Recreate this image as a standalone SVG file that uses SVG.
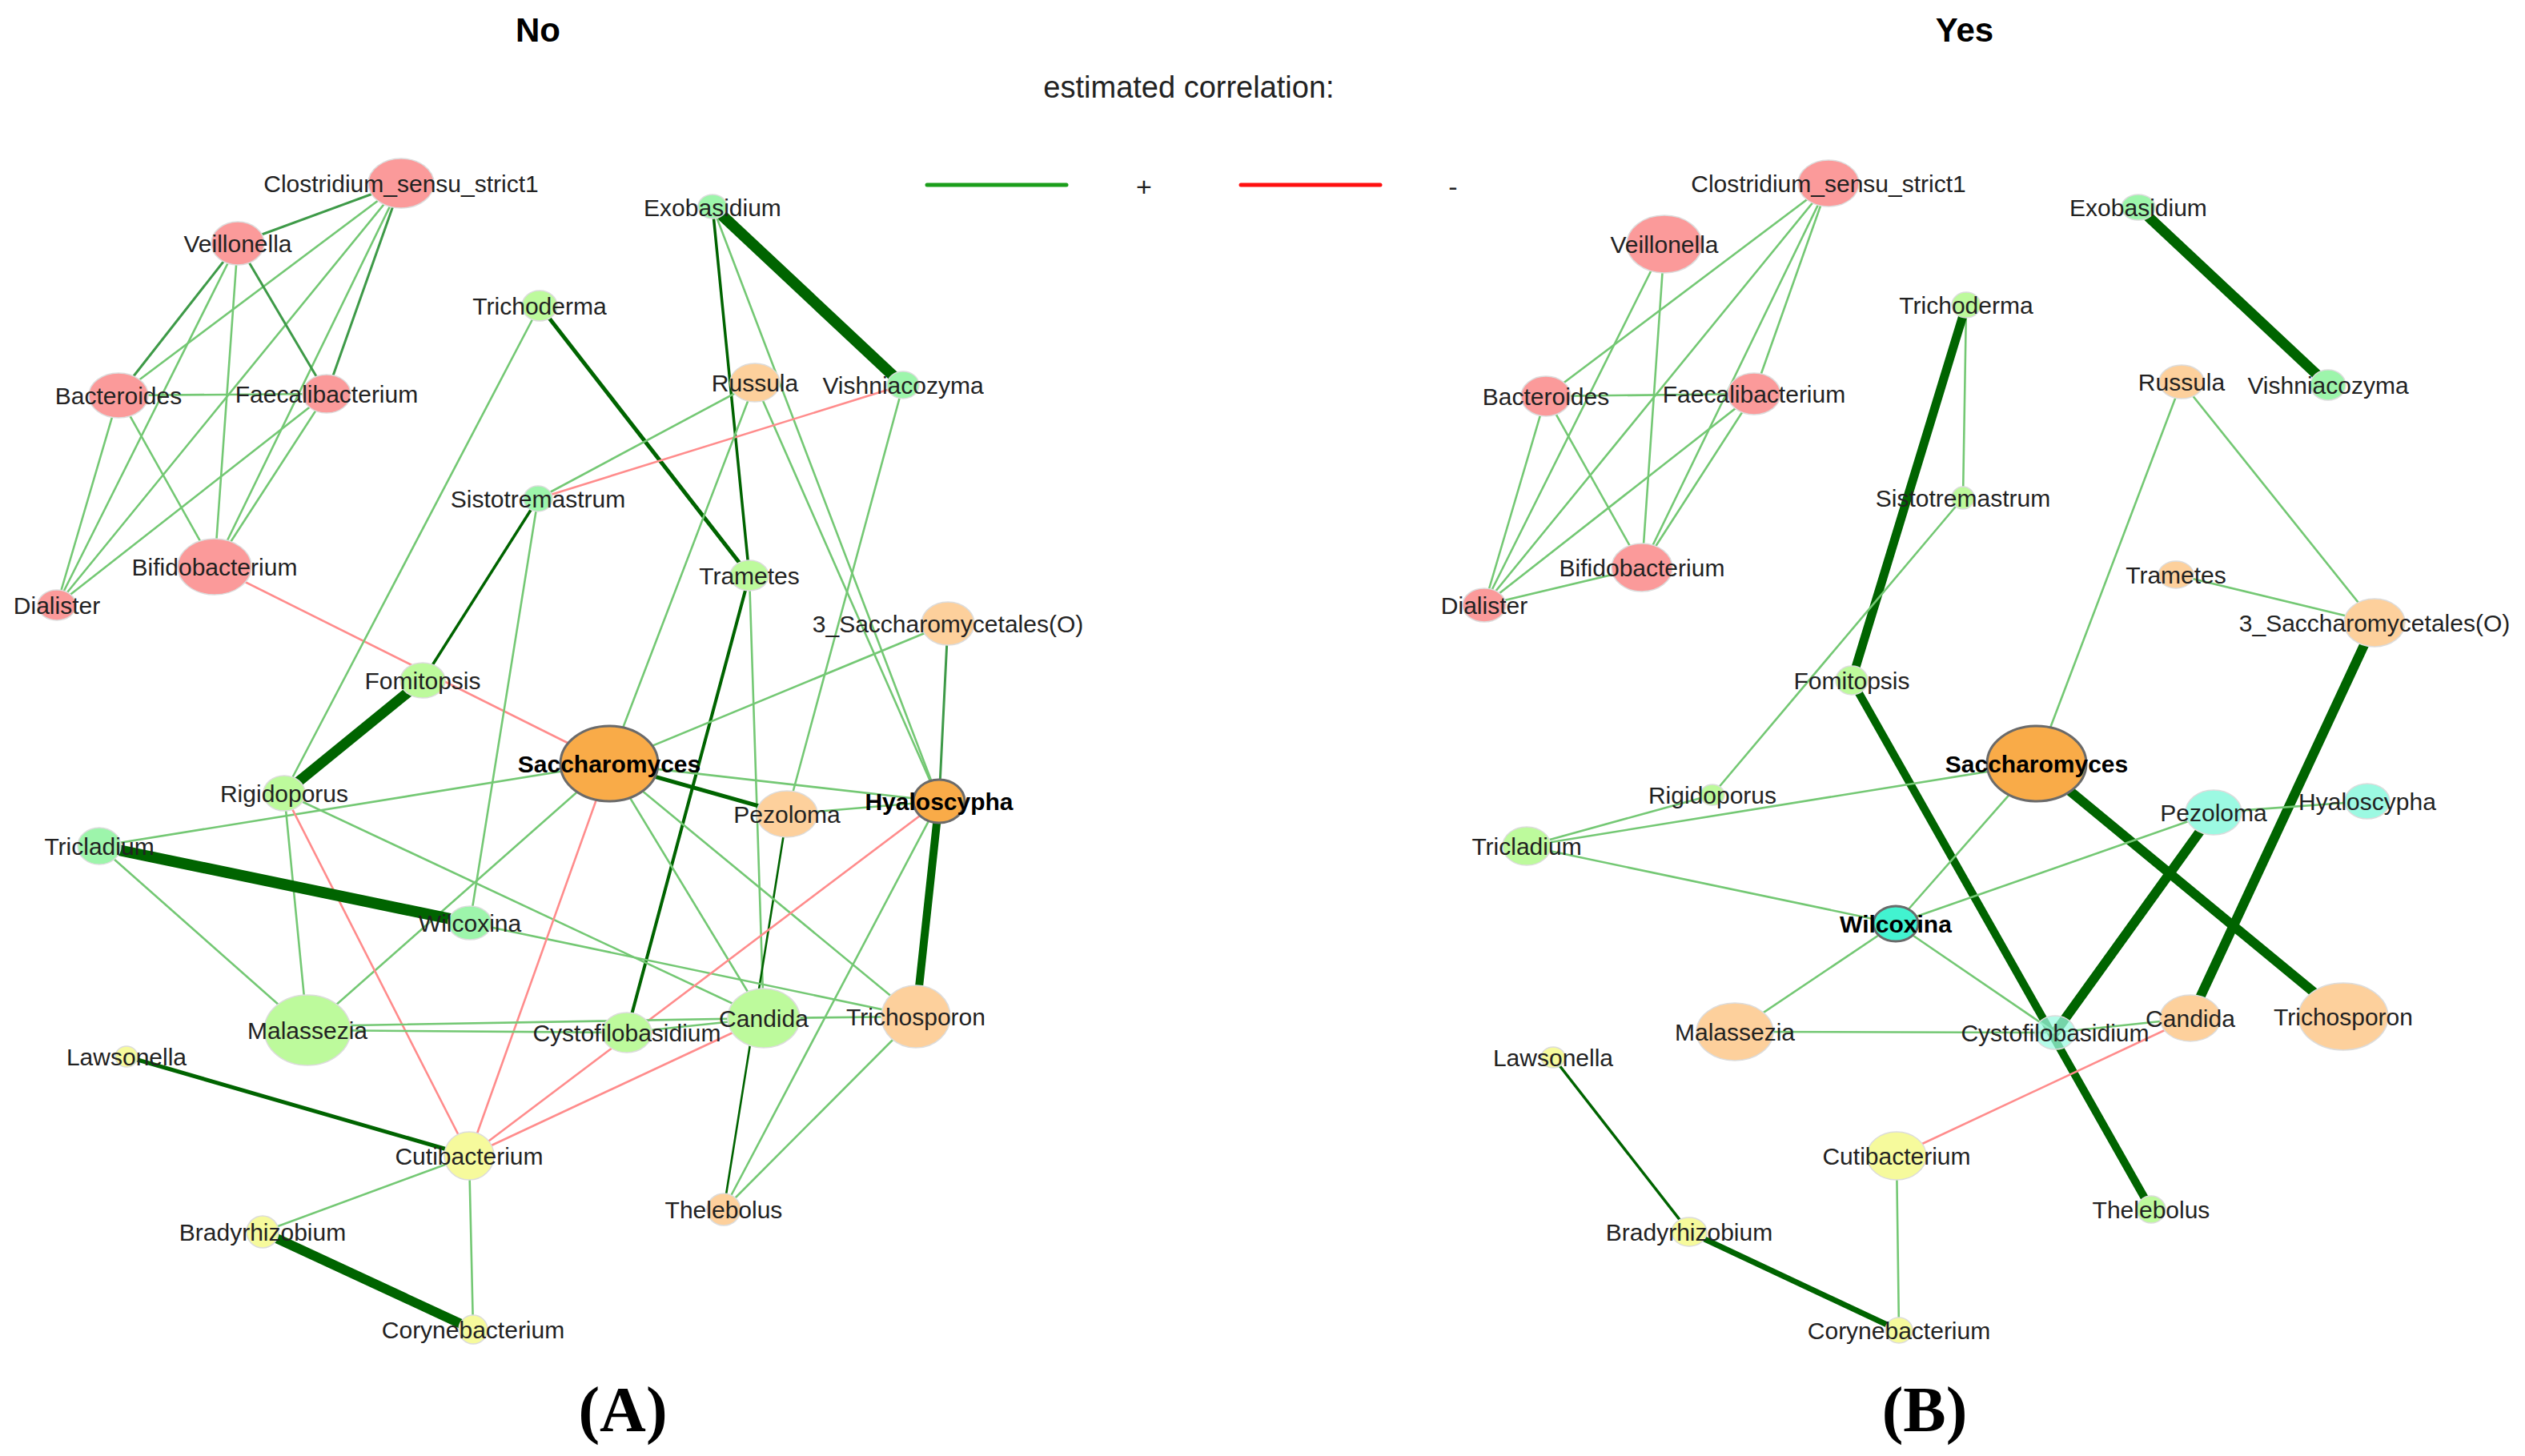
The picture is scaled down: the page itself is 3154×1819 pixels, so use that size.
<svg xmlns="http://www.w3.org/2000/svg" width="3154" height="1819" viewBox="0 0 3154 1819">
<style>
line{stroke-linecap:round}
.lg{stroke:#74c874;stroke-width:2.6}
.mg{stroke:#3e9a48;stroke-width:3}
.dg{stroke:#006400}
.rd{stroke:#ff8c8c;stroke-width:2.6}
ellipse{stroke:#dcdcdc;stroke-width:1.5}
.pk{fill:#fb9a9a}
.lgn{fill:#bdfa9c}
.mgn{fill:#9df5ab}
.lo{fill:#fdd09c}
.or{fill:#f9ab48;stroke:#6a6a6a;stroke-width:3}
.ye{fill:#f6fa9c}
.cy{fill:#9cf9e2}
.tq{fill:#42f3d0;stroke:#6a6a6a;stroke-width:3}
text{font-family:"Liberation Sans",Arial,Helvetica,sans-serif}
.l{font-size:30px;fill:#222;text-anchor:middle}
.b{font-weight:bold;fill:#000}
.t{font-size:42px;font-weight:bold;text-anchor:middle;fill:#000}
.p{font-family:"Liberation Serif","Times New Roman",serif;font-size:80px;font-weight:bold;text-anchor:middle;fill:#000}
</style>
<rect width="3154" height="1819" fill="#fff"/>
<g id="titles">
<text class="t" x="672" y="52">No</text>
<text class="t" x="2454" y="52">Yes</text>
<text x="1485" y="122" font-size="38" text-anchor="middle" fill="#222">estimated correlation:</text>
<line x1="1158" y1="231" x2="1332" y2="231" stroke="#1b9e1b" stroke-width="5"/>
<text x="1429" y="245" font-size="34" text-anchor="middle" fill="#222">+</text>
<line x1="1550" y1="231" x2="1724" y2="231" stroke="#ff1010" stroke-width="5"/>
<text x="1815" y="245" font-size="34" text-anchor="middle" fill="#222">-</text>
<text class="p" x="778" y="1788">(A)</text>
<text class="p" x="2404" y="1788">(B)</text>
</g>
<g id="connectors">
<g id="edges-A">
<line class="mg" x1="501" y1="229" x2="297" y2="304"/>
<line class="lg" x1="501" y1="229" x2="148" y2="494"/>
<line class="mg" x1="501" y1="229" x2="408" y2="492"/>
<line class="lg" x1="501" y1="229" x2="268" y2="708"/>
<line class="lg" x1="501" y1="229" x2="71" y2="756"/>
<line class="mg" x1="297" y1="304" x2="148" y2="494"/>
<line class="mg" x1="297" y1="304" x2="408" y2="492"/>
<line class="lg" x1="297" y1="304" x2="268" y2="708"/>
<line class="lg" x1="297" y1="304" x2="71" y2="756"/>
<line class="lg" x1="148" y1="494" x2="408" y2="492"/>
<line class="lg" x1="148" y1="494" x2="268" y2="708"/>
<line class="lg" x1="148" y1="494" x2="71" y2="756"/>
<line class="lg" x1="408" y1="492" x2="71" y2="756"/>
<line class="lg" x1="408" y1="492" x2="268" y2="708"/>
<line class="rd" x1="268" y1="708" x2="761" y2="954"/>
<line class="dg" stroke-width="14" x1="890" y1="258" x2="1128" y2="481"/>
<line class="dg" stroke-width="3.5" x1="890" y1="258" x2="936" y2="719"/>
<line class="lg" x1="890" y1="258" x2="1173" y2="1001"/>
<line class="lg" x1="943" y1="478" x2="1173" y2="1001"/>
<line class="dg" stroke-width="5" x1="674" y1="382" x2="936" y2="719"/>
<line class="lg" x1="674" y1="382" x2="355" y2="991"/>
<line class="lg" x1="943" y1="478" x2="672" y2="623"/>
<line class="rd" x1="1128" y1="481" x2="672" y2="623"/>
<line class="lg" x1="943" y1="478" x2="761" y2="954"/>
<line class="lg" x1="1128" y1="481" x2="983" y2="1017"/>
<line class="lg" x1="936" y1="719" x2="954" y2="1272"/>
<line class="dg" stroke-width="4" x1="936" y1="719" x2="783" y2="1290"/>
<line class="lg" x1="1184" y1="779" x2="761" y2="954"/>
<line class="mg" stroke="#4cb84c" x1="1184" y1="779" x2="1173" y2="1001"/>
<line class="dg" stroke-width="10" x1="1173" y1="1001" x2="1144" y2="1270"/>
<line class="dg" stroke-width="5" x1="761" y1="954" x2="983" y2="1017"/>
<line class="lg" x1="761" y1="954" x2="1173" y2="1001"/>
<line class="lg" x1="983" y1="1017" x2="1173" y2="1001"/>
<line class="dg" stroke="#2b8a2b" stroke-width="2.6" x1="983" y1="1017" x2="904" y2="1511"/>
<line class="lg" x1="1173" y1="1001" x2="904" y2="1511"/>
<line class="lg" x1="1144" y1="1270" x2="904" y2="1511"/>
<line class="lg" x1="761" y1="954" x2="384" y2="1287"/>
<line class="lg" x1="672" y1="623" x2="587" y2="1153"/>
<line class="dg" stroke-width="3.5" x1="672" y1="623" x2="528" y2="850"/>
<line class="dg" stroke-width="13" x1="528" y1="850" x2="355" y2="991"/>
<line class="lg" x1="124" y1="1057" x2="761" y2="954"/>
<line class="lg" x1="355" y1="991" x2="384" y2="1287"/>
<line class="rd" x1="355" y1="991" x2="586" y2="1444"/>
<line class="lg" x1="355" y1="991" x2="954" y2="1272"/>
<line class="dg" stroke-width="14" x1="124" y1="1057" x2="587" y2="1153"/>
<line class="lg" x1="124" y1="1057" x2="384" y2="1287"/>
<line class="lg" x1="587" y1="1153" x2="1144" y2="1270"/>
<line class="lg" x1="761" y1="954" x2="954" y2="1272"/>
<line class="lg" x1="761" y1="954" x2="1144" y2="1270"/>
<line class="rd" x1="761" y1="954" x2="586" y2="1444"/>
<line class="rd" x1="586" y1="1444" x2="1173" y2="1001"/>
<line class="rd" x1="586" y1="1444" x2="954" y2="1272"/>
<line class="dg" stroke-width="5" x1="158" y1="1320" x2="586" y2="1444"/>
<line class="lg" x1="586" y1="1444" x2="328" y2="1539"/>
<line class="lg" stroke-width="2" x1="586" y1="1444" x2="591" y2="1661"/>
<line class="dg" stroke-width="12" x1="328" y1="1539" x2="591" y2="1661"/>
<line class="lg" x1="384" y1="1287" x2="783" y2="1290"/>
<line class="lg" x1="384" y1="1282" x2="954" y2="1272"/>
<line class="lg" x1="783" y1="1290" x2="954" y2="1272"/>
<line class="lg" x1="954" y1="1272" x2="1144" y2="1270"/>
</g>
<g id="edges-B">
<line class="lg" x1="2284" y1="229" x2="1931" y2="495"/>
<line class="lg" x1="2284" y1="229" x2="1854" y2="756"/>
<line class="lg" x1="2284" y1="229" x2="2051" y2="709"/>
<line class="lg" x1="2284" y1="229" x2="2191" y2="492"/>
<line class="lg" x1="2079" y1="305" x2="1854" y2="756"/>
<line class="lg" x1="2079" y1="305" x2="2051" y2="709"/>
<line class="lg" x1="1931" y1="495" x2="2191" y2="492"/>
<line class="lg" x1="1931" y1="495" x2="1854" y2="756"/>
<line class="lg" x1="1931" y1="495" x2="2051" y2="709"/>
<line class="lg" x1="2191" y1="492" x2="1854" y2="756"/>
<line class="lg" x1="2191" y1="492" x2="2051" y2="709"/>
<line class="lg" x1="2051" y1="709" x2="1854" y2="756"/>
<line class="dg" stroke-width="13" x1="2671" y1="259" x2="2908" y2="481"/>
<line class="lg" x1="2456" y1="381" x2="2452" y2="622"/>
<line class="dg" stroke-width="11" x1="2456" y1="381" x2="2313" y2="850"/>
<line class="lg" x1="2452" y1="622" x2="2139" y2="993"/>
<line class="dg" stroke-width="10" x1="2313" y1="850" x2="2687" y2="1511"/>
<line class="lg" x1="2725" y1="477" x2="2544" y2="954"/>
<line class="lg" x1="2725" y1="477" x2="2966" y2="778"/>
<line class="lg" x1="2718" y1="718" x2="2966" y2="778"/>
<line class="dg" stroke-width="12" x1="2966" y1="778" x2="2736" y2="1272"/>
<line class="dg" stroke-width="12" x1="2544" y1="954" x2="2927" y2="1270"/>
<line class="dg" stroke-width="12" x1="2765" y1="1015" x2="2567" y2="1290"/>
<line class="lg" x1="2765" y1="1015" x2="2957" y2="1001"/>
<line class="lg" x1="2765" y1="1015" x2="2368" y2="1154"/>
<line class="lg" x1="2544" y1="954" x2="2368" y2="1154"/>
<line class="lg" x1="1907" y1="1057" x2="2544" y2="954"/>
<line class="lg" x1="1907" y1="1057" x2="2139" y2="993"/>
<line class="lg" x1="1907" y1="1057" x2="2368" y2="1154"/>
<line class="lg" x1="2368" y1="1154" x2="2167" y2="1289"/>
<line class="lg" x1="2368" y1="1154" x2="2567" y2="1290"/>
<line class="lg" x1="2167" y1="1289" x2="2567" y2="1290"/>
<line class="lg" x1="2567" y1="1290" x2="2736" y2="1272"/>
<line class="rd" x1="2369" y1="1444" x2="2736" y2="1272"/>
<line class="lg" x1="2369" y1="1444" x2="2372" y2="1662"/>
<line class="dg" stroke="#2b7f2b" stroke-width="3.5" x1="1940" y1="1321" x2="2110" y2="1539"/>
<line class="dg" stroke-width="7" x1="2110" y1="1539" x2="2372" y2="1662"/>
</g>
</g>
<g id="nodes-A">
<g id="A-Clostridium"><ellipse class="pk" cx="501" cy="229" rx="41" ry="31"/><text class="l" x="501" y="240">Clostridium_sensu_strict1</text></g>
<g id="A-Veillonella"><ellipse class="pk" cx="297" cy="304" rx="33" ry="27"/><text class="l" x="297" y="315">Veillonella</text></g>
<g id="A-Bacteroides"><ellipse class="pk" cx="148" cy="494" rx="37" ry="28"/><text class="l" x="148" y="505">Bacteroides</text></g>
<g id="A-Faecalibacterium"><ellipse class="pk" cx="408" cy="492" rx="30" ry="24"/><text class="l" x="408" y="503">Faecalibacterium</text></g>
<g id="A-Bifidobacterium"><ellipse class="pk" cx="268" cy="708" rx="46" ry="35"/><text class="l" x="268" y="719">Bifidobacterium</text></g>
<g id="A-Dialister"><ellipse class="pk" cx="71" cy="756" rx="24" ry="19"/><text class="l" x="71" y="767">Dialister</text></g>
<g id="A-Trichoderma"><ellipse class="lgn" cx="674" cy="382" rx="22" ry="19"/><text class="l" x="674" y="393">Trichoderma</text></g>
<g id="A-Exobasidium"><ellipse class="mgn" cx="890" cy="258" rx="18" ry="15"/><text class="l" x="890" y="270">Exobasidium</text></g>
<g id="A-Russula"><ellipse class="lo" cx="943" cy="478" rx="31" ry="24"/><text class="l" x="943" y="489">Russula</text></g>
<g id="A-Vishniacozyma"><ellipse class="mgn" cx="1128" cy="481" rx="20" ry="17"/><text class="l" x="1128" y="492">Vishniacozyma</text></g>
<g id="A-Sistotremastrum"><ellipse class="mgn" cx="672" cy="623" rx="18" ry="16"/><text class="l" x="672" y="634">Sistotremastrum</text></g>
<g id="A-Trametes"><ellipse class="lgn" cx="936" cy="719" rx="24" ry="19"/><text class="l" x="936" y="730">Trametes</text></g>
<g id="A-Saccharomycetales"><ellipse class="lo" cx="1184" cy="779" rx="33" ry="27"/><text class="l" x="1184" y="790">3_Saccharomycetales(O)</text></g>
<g id="A-Fomitopsis"><ellipse class="lgn" cx="528" cy="850" rx="28" ry="22"/><text class="l" x="528" y="861">Fomitopsis</text></g>
<g id="A-Saccharomyces"><ellipse class="or" cx="761" cy="954" rx="61" ry="47"/><text class="l b" x="761" y="965">Saccharomyces</text></g>
<g id="A-Pezoloma"><ellipse class="lo" cx="983" cy="1017" rx="38" ry="29"/><text class="l" x="983" y="1028">Pezoloma</text></g>
<g id="A-Hyaloscypha"><ellipse class="or" cx="1173" cy="1001" rx="32" ry="27"/><text class="l b" x="1173" y="1012">Hyaloscypha</text></g>
<g id="A-Rigidoporus"><ellipse class="lgn" cx="355" cy="991" rx="26" ry="22"/><text class="l" x="355" y="1002">Rigidoporus</text></g>
<g id="A-Tricladium"><ellipse class="mgn" cx="124" cy="1057" rx="27" ry="23"/><text class="l" x="124" y="1068">Tricladium</text></g>
<g id="A-Wilcoxina"><ellipse class="mgn" cx="587" cy="1153" rx="27" ry="21"/><text class="l" x="587" y="1164">Wilcoxina</text></g>
<g id="A-Malassezia"><ellipse class="lgn" cx="384" cy="1287" rx="54" ry="44"/><text class="l" x="384" y="1298">Malassezia</text></g>
<g id="A-Cystofilobasidium"><ellipse class="lgn" cx="783" cy="1290" rx="31" ry="25"/><text class="l" x="783" y="1301">Cystofilobasidium</text></g>
<g id="A-Candida"><ellipse class="lgn" cx="954" cy="1272" rx="45" ry="37"/><text class="l" x="954" y="1283">Candida</text></g>
<g id="A-Trichosporon"><ellipse class="lo" cx="1144" cy="1270" rx="43" ry="39"/><text class="l" x="1144" y="1281">Trichosporon</text></g>
<g id="A-Lawsonella"><ellipse class="ye" cx="158" cy="1320" rx="14" ry="13"/><text class="l" x="158" y="1331">Lawsonella</text></g>
<g id="A-Cutibacterium"><ellipse class="ye" cx="586" cy="1444" rx="31" ry="30"/><text class="l" x="586" y="1455">Cutibacterium</text></g>
<g id="A-Thelebolus"><ellipse class="lo" cx="904" cy="1511" rx="21" ry="20"/><text class="l" x="904" y="1522">Thelebolus</text></g>
<g id="A-Bradyrhizobium"><ellipse class="ye" cx="328" cy="1539" rx="20" ry="20"/><text class="l" x="328" y="1550">Bradyrhizobium</text></g>
<g id="A-Corynebacterium"><ellipse class="ye" cx="591" cy="1661" rx="18" ry="18"/><text class="l" x="591" y="1672">Corynebacterium</text></g>
</g>
<g id="nodes-B">
<g id="B-Clostridium"><ellipse class="pk" cx="2284" cy="229" rx="38" ry="29"/><text class="l" x="2284" y="240">Clostridium_sensu_strict1</text></g>
<g id="B-Veillonella"><ellipse class="pk" cx="2079" cy="305" rx="47" ry="36"/><text class="l" x="2079" y="316">Veillonella</text></g>
<g id="B-Bacteroides"><ellipse class="pk" cx="1931" cy="495" rx="31" ry="25"/><text class="l" x="1931" y="506">Bacteroides</text></g>
<g id="B-Faecalibacterium"><ellipse class="pk" cx="2191" cy="492" rx="33" ry="26"/><text class="l" x="2191" y="503">Faecalibacterium</text></g>
<g id="B-Bifidobacterium"><ellipse class="pk" cx="2051" cy="709" rx="38" ry="30"/><text class="l" x="2051" y="720">Bifidobacterium</text></g>
<g id="B-Dialister"><ellipse class="pk" cx="1854" cy="756" rx="27" ry="21"/><text class="l" x="1854" y="767">Dialister</text></g>
<g id="B-Trichoderma"><ellipse class="lgn" cx="2456" cy="381" rx="18" ry="16"/><text class="l" x="2456" y="392">Trichoderma</text></g>
<g id="B-Exobasidium"><ellipse class="mgn" cx="2671" cy="259" rx="21" ry="16"/><text class="l" x="2671" y="270">Exobasidium</text></g>
<g id="B-Russula"><ellipse class="lo" cx="2725" cy="477" rx="28" ry="21"/><text class="l" x="2725" y="488">Russula</text></g>
<g id="B-Vishniacozyma"><ellipse class="mgn" cx="2908" cy="481" rx="22" ry="19"/><text class="l" x="2908" y="492">Vishniacozyma</text></g>
<g id="B-Sistotremastrum"><ellipse class="lgn" cx="2452" cy="622" rx="14" ry="14"/><text class="l" x="2452" y="633">Sistotremastrum</text></g>
<g id="B-Trametes"><ellipse class="lo" cx="2718" cy="718" rx="22" ry="17"/><text class="l" x="2718" y="729">Trametes</text></g>
<g id="B-Saccharomycetales"><ellipse class="lo" cx="2966" cy="778" rx="38" ry="30"/><text class="l" x="2966" y="789">3_Saccharomycetales(O)</text></g>
<g id="B-Fomitopsis"><ellipse class="lgn" cx="2313" cy="850" rx="20" ry="18"/><text class="l" x="2313" y="861">Fomitopsis</text></g>
<g id="B-Saccharomyces"><ellipse class="or" cx="2544" cy="954" rx="62" ry="47"/><text class="l b" x="2544" y="965">Saccharomyces</text></g>
<g id="B-Pezoloma"><ellipse class="cy" cx="2765" cy="1015" rx="35" ry="28"/><text class="l" x="2765" y="1026">Pezoloma</text></g>
<g id="B-Hyaloscypha"><ellipse class="cy" cx="2957" cy="1001" rx="28" ry="22"/><text class="l" x="2957" y="1012">Hyaloscypha</text></g>
<g id="B-Rigidoporus"><ellipse class="lgn" cx="2139" cy="993" rx="15" ry="13"/><text class="l" x="2139" y="1004">Rigidoporus</text></g>
<g id="B-Tricladium"><ellipse class="lgn" cx="1907" cy="1057" rx="30" ry="24"/><text class="l" x="1907" y="1068">Tricladium</text></g>
<g id="B-Wilcoxina"><ellipse class="tq" cx="2368" cy="1154" rx="28" ry="22"/><text class="l b" x="2368" y="1165">Wilcoxina</text></g>
<g id="B-Malassezia"><ellipse class="lo" cx="2167" cy="1289" rx="48" ry="36"/><text class="l" x="2167" y="1300">Malassezia</text></g>
<g id="B-Cystofilobasidium"><ellipse class="cy" fill-opacity="0.75" cx="2567" cy="1290" rx="25" ry="21"/><text class="l" x="2567" y="1301">Cystofilobasidium</text></g>
<g id="B-Candida"><ellipse class="lo" cx="2736" cy="1272" rx="38" ry="29"/><text class="l" x="2736" y="1283">Candida</text></g>
<g id="B-Trichosporon"><ellipse class="lo" cx="2927" cy="1270" rx="56" ry="42"/><text class="l" x="2927" y="1281">Trichosporon</text></g>
<g id="B-Lawsonella"><ellipse class="ye" cx="1940" cy="1321" rx="15" ry="13"/><text class="l" x="1940" y="1332">Lawsonella</text></g>
<g id="B-Cutibacterium"><ellipse class="ye" cx="2369" cy="1444" rx="37" ry="30"/><text class="l" x="2369" y="1455">Cutibacterium</text></g>
<g id="B-Thelebolus"><ellipse class="lgn" cx="2687" cy="1511" rx="18" ry="17"/><text class="l" x="2687" y="1522">Thelebolus</text></g>
<g id="B-Bradyrhizobium"><ellipse class="ye" cx="2110" cy="1539" rx="22" ry="18"/><text class="l" x="2110" y="1550">Bradyrhizobium</text></g>
<g id="B-Corynebacterium"><ellipse class="ye" cx="2372" cy="1662" rx="17" ry="16"/><text class="l" x="2372" y="1673">Corynebacterium</text></g>
</g>
</svg>
